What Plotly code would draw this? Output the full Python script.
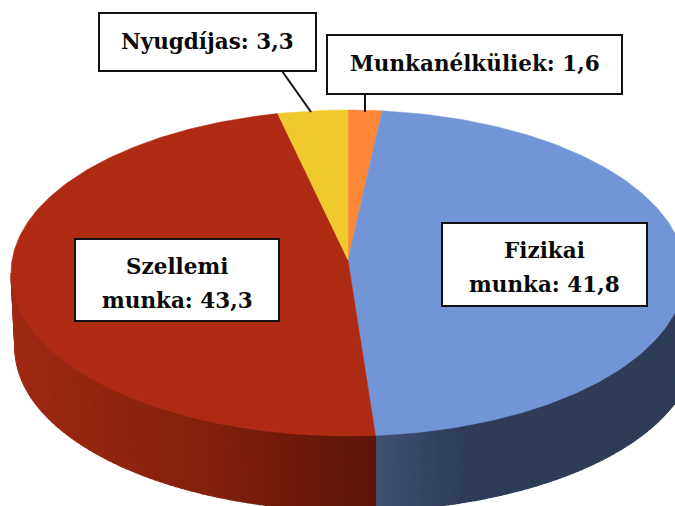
import math
import plotly.graph_objects as go

categories = ["Munkanélküliek", "Fizikai munka", "Szellemi munka", "Nyugdíjas"]
values = [1.6, 41.8, 43.3, 3.3]
top_colors = ["#FE8637", "#7295D8", "#AF2A12", "#F0C92E"]
label_lines = [["Munkanélküliek: 1,6"], ["Fizikai", "munka: 41,8"], ["Szellemi", "munka: 43,3"], ["Nyugdíjas: 3,3"]]
# wall shading stops: (fraction along the visible wall from left to right, colour)
wall_red = [(0.0, (160, 42, 20)), (0.55, (132, 32, 14)), (1.0, (92, 21, 9))]
wall_blue = [(0.0, (64, 82, 115)), (0.3, (46, 60, 88)), (1.0, (46, 60, 88))]

CX, CY, RX, RY = 348, 273, 337, 163
AX, AY = 348, 260
LOW_CX, LOW_CY, LOW_RX = 355, 348, 340


def pt(theta):
    return CX + RX * math.sin(theta), CY - RY * math.cos(theta)


def pt_low(theta):
    return LOW_CX + LOW_RX * math.sin(theta), LOW_CY - RY * math.cos(theta)


def foreshorten(theta):
    k = 0.91 if math.cos(theta) > 0 else 0.73
    t = math.atan2(k * math.sin(theta), math.cos(theta))
    return t if t >= 0 else t + 2 * math.pi


def shade(stops, f):
    f = min(1, max(0, f))
    for (a, c1), (b, c2) in zip(stops, stops[1:]):
        if f <= b:
            t = (f - a) / (b - a)
            return "rgb(%d,%d,%d)" % tuple(c1[i] + (c2[i] - c1[i]) * t for i in range(3))
    return "rgb(%d,%d,%d)" % stops[-1][1]


total = sum(values)
cumulative = [0.0]
for v in values:
    cumulative.append(cumulative[-1] + v / total * 2 * math.pi)
edges = [foreshorten(e) for e in cumulative[:-1]] + [2 * math.pi]

fig = go.Figure()


def poly(xs, ys, color, name, width=1.2):
    fig.add_trace(go.Scatter(x=xs, y=ys, mode="lines", fill="toself", fillcolor=color,
                             line=dict(color=color, width=width), hoverinfo="skip",
                             showlegend=False, name=name))


front = edges[2]
front_x = pt(front)[0]
# Lower rim angle directly under the front edge, so the colour seam is vertical
front_low = math.pi - math.asin((front_x - LOW_CX) / LOW_RX)
n = 90


def wall_strip(top0, top1, low0, low1, i):
    a, b = top0 + (top1 - top0) * i / n, top0 + (top1 - top0) * (i + 1) / n
    c, d = low0 + (low1 - low0) * i / n, low0 + (low1 - low0) * (i + 1) / n
    x1, y1 = pt(a); x2, y2 = pt(b); x3, y3 = pt_low(d); x4, y4 = pt_low(c)
    return [x1, x2, x3, x4, x1], [y1, y2, y3, y4, y1]


for i in range(n):
    xs, ys = wall_strip(math.pi / 2, front, math.pi / 2, front_low, i)
    poly(xs, ys, shade(wall_blue, (xs[0] - front_x) / 300), "wall")
for i in range(n):
    xs, ys = wall_strip(front, 1.5 * math.pi, front_low, 1.5 * math.pi, i)
    poly(xs, ys, shade(wall_red, (xs[0] - CX + RX) / (front_x - CX + RX)), "wall")

# Top faces
for k, cat in enumerate(categories):
    s, e = edges[k], edges[k + 1]
    m = max(4, int((e - s) * 60))
    xs, ys = [AX], [AY]
    for i in range(m + 1):
        px, py = pt(s + (e - s) * i / m)
        xs.append(px); ys.append(py)
    xs.append(AX); ys.append(AY)
    poly(xs, ys, top_colors[k], cat, width=0.5)

# Leader lines
fig.add_shape(type="line", x0=365, y0=94, x1=365, y1=112, line=dict(color="#111", width=2))
fig.add_shape(type="line", x0=282, y0=71, x1=311, y1=112, line=dict(color="#111", width=2))

# Label boxes
boxes = [(327, 35, 622, 94), (442, 223, 647, 306), (75, 239, 279, 321), (99, 13, 316, 71)]
for (x0, y0, x1, y1), lines in zip(boxes, label_lines):
    fig.add_shape(type="rect", x0=x0, y0=y0, x1=x1, y1=y1, fillcolor="white",
                  line=dict(color="#111", width=2), layer="above")
    for j, line in enumerate(lines):
        offset = (j - (len(lines) - 1) / 2) * 34 + (3 if len(lines) > 1 else -1)
        fig.add_annotation(x=(x0 + x1) / 2, y=(y0 + y1) / 2 + offset, text="<b>%s</b>" % line,
                           showarrow=False, xanchor="center", yanchor="middle", align="center",
                           font=dict(family="DejaVu Serif", size=21.5, color="#0a0a0a"))

fig.update_layout(
    width=675, height=506, margin=dict(l=0, r=0, t=0, b=0),
    paper_bgcolor="white", plot_bgcolor="white", showlegend=False,
    xaxis=dict(range=[0, 675], visible=False, fixedrange=True),
    yaxis=dict(range=[506, 0], visible=False, fixedrange=True),
)
fig.write_html("out.html", config=dict(displayModeBar=False),
               post_script="document.body.style.margin='0';document.documentElement.style.overflow='hidden';")
